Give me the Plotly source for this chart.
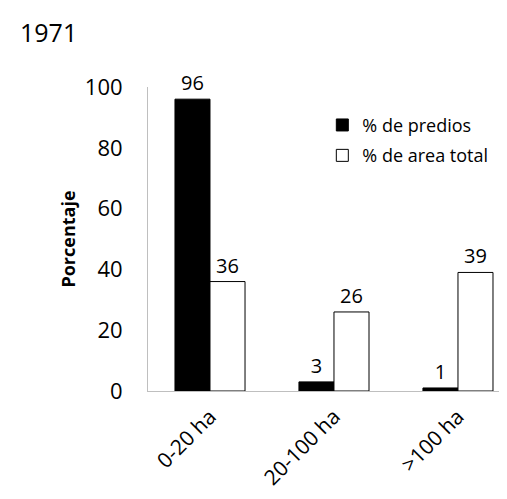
import plotly.graph_objects as go

categories = ["0-20 ha", "20-100 ha", ">100 ha"]
predios = [96, 3, 1]
area_total = [36, 26, 39]
series_names = ["% de predios", "% de area total"]
y_ticks = [0, 20, 40, 60, 80, 100]

FONT = "Open Sans"

fig = go.Figure()
fig.add_trace(go.Bar(
    x=categories, y=predios, name=series_names[0],
    marker=dict(color="black", line=dict(color="black", width=1)),
    text=[str(v) for v in predios], textposition="outside",
    textfont=dict(size=20, color="black", family=FONT),
    cliponaxis=False, legendgroup="a",
))
fig.add_trace(go.Bar(
    x=categories, y=area_total, name=series_names[1],
    marker=dict(color="white", line=dict(color="black", width=1)),
    text=[str(v) for v in area_total], textposition="outside",
    textfont=dict(size=20, color="black", family=FONT),
    cliponaxis=False, legendgroup="b",
))

fig.update_layout(
    width=507, height=499,
    margin=dict(l=140, r=0, t=79, b=116),
    paper_bgcolor="white", plot_bgcolor="white",
    font=dict(family=FONT, color="black"),
    barmode="group", bargap=0.435, bargroupgap=0,
    title=dict(text="1971", x=12/507, xanchor="left", xref="container",
               y=1 - 25/499, yanchor="middle", yref="container",
               font=dict(size=25, family=FONT, color="black")),
    showlegend=True,
    legend=dict(x=0.475, y=0.935, xanchor="left", yanchor="top",
                font=dict(size=18, family=FONT, color="black"),
                bgcolor="rgba(0,0,0,0)", tracegroupgap=4,
                traceorder="grouped", itemwidth=30),
    uniformtext=dict(mode=False),
)
fig.update_xaxes(
    range=[-0.5, 2.46], showline=True, linecolor="#bfbfbf", linewidth=1,
    showgrid=False, ticks="", tickangle=-45, ticklabelstandoff=4,
    tickfont=dict(size=21, family=FONT, color="black"), fixedrange=True,
)
fig.update_yaxes(
    range=[0, 100], tickvals=y_ticks, showline=True, linecolor="#bfbfbf",
    linewidth=1, showgrid=False, ticks="", ticklabelstandoff=20,
    zeroline=False,
    tickfont=dict(size=22, family=FONT, color="black"),
    title=dict(text="<b>Porcentaje</b>", standoff=4,
               font=dict(size=18, family=FONT, color="black")),
)

fig.write_html("out.html")
